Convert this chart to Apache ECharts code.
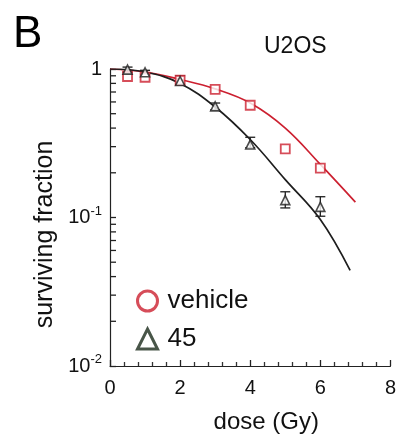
<!DOCTYPE html>
<html>
<head>
<meta charset="utf-8">
<script src="https://cdn.jsdelivr.net/npm/echarts@6/dist/echarts.min.js"></script>
<style>
  html, body { margin: 0; padding: 0; background: #fff; }
  #chart { width: 399px; height: 439px; }
</style>
</head>
<body>
<div id="chart"></div>
<script>
// measured points
var doses = [0.5, 1, 2, 3, 4, 5, 6];
var vehicleSF = [0.89, 0.88, 0.84, 0.73, 0.57, 0.29, 0.215];
var drugSF = [0.99, 0.95, 0.83, 0.56, 0.31, 0.131, 0.118];
var drugErrLow = [0.95, 0.92, 0.79, 0.53, 0.295, 0.116, 0.102];
var drugErrHigh = [1.03, 0.98, 0.90, 0.59, 0.347, 0.149, 0.138];

// fitted curves
var vehicleFitDose = [0, 1, 2, 3, 4, 5, 6, 7];
var vehicleFit = [1, 0.955, 0.85, 0.735, 0.59, 0.40, 0.228, 0.127];
var drugFitDose = [0, 1, 2, 3, 4, 5, 6, 6.85];
var drugFit = [1, 0.955, 0.80, 0.555, 0.335, 0.18, 0.097, 0.044];

// log minor ticks on y axis
var yMinorTicks = [0.02, 0.03, 0.04, 0.05, 0.06, 0.07, 0.08, 0.09,
                   0.2, 0.3, 0.4, 0.5, 0.6, 0.7, 0.8, 0.9];

var RED = '#cc2030';
var BLACK = '#1e1e1e';
var FONT = 'Liberation Sans, Arial, sans-serif';

function pairs(xs, ys) {
    return xs.map(function (x, i) { return [x, ys[i]]; });
}

var chart = echarts.init(document.getElementById('chart'));
var option = {
    animation: false,
    backgroundColor: '#fff',
    textStyle: { fontFamily: FONT },
    grid: { left: 110, right: 7, top: 69, bottom: 62 },
    title: [
        { text: 'B', left: 8, top: 8, textStyle: { fontSize: 44, fontWeight: 'normal', color: '#000', fontFamily: FONT } },
        { text: 'U2OS', left: 259, top: 30, textStyle: { fontSize: 23, fontWeight: 'normal', color: '#111', fontFamily: FONT } }
    ],
    legend: {
        orient: 'vertical',
        left: 131,
        top: 283,
        itemGap: 12,
        itemWidth: 20,
        itemHeight: 20,
        textStyle: { fontSize: 26, color: '#111', fontFamily: FONT, padding: [0, 0, 0, 5] },
        data: [
            { name: 'vehicle', icon: 'circle', itemStyle: { color: '#fff', borderColor: RED, borderWidth: 3 } },
            { name: '45', icon: 'triangle', itemStyle: { color: '#fff', borderColor: '#1a2a1a', borderWidth: 3 } }
        ]
    },
    xAxis: {
        type: 'value',
        min: 0,
        max: 8,
        interval: 2,
        name: 'dose (Gy)',
        nameLocation: 'middle',
        nameGap: 44,
        nameTextStyle: { fontSize: 24, color: '#111', padding: [0, 0, 0, 32] },
        axisLine: { show: true, lineStyle: { color: '#222', width: 1.2 } },
        axisTick: { show: true, inside: true, length: 6, lineStyle: { color: '#222', width: 1.3 } },
        minorTick: { show: true, splitNumber: 5, length: 4, lineStyle: { color: '#333', width: 1.3 } },
        splitLine: { show: false },
        axisLabel: { fontSize: 20, color: '#111', margin: 12 }
    },
    yAxis: {
        type: 'log',
        logBase: 10,
        min: 0.01,
        max: 1,
        name: 'surviving fraction',
        nameLocation: 'middle',
        nameGap: 48,
        nameTextStyle: { fontSize: 25, color: '#111', padding: [0, 34, 0, 0] },
        axisLine: { show: true, lineStyle: { color: '#222', width: 1.2 } },
        axisTick: { show: true, inside: true, length: 6, lineStyle: { color: '#222', width: 1.3 } },
        splitLine: { show: false },
        axisLabel: {
            margin: 8,
            color: '#111',
            formatter: function (v) {
                var e = Math.round(Math.log10(v));
                if (e === 0) return '{b|1}';
                return '{b|10}{s|' + e + '}';
            },
            rich: {
                b: { fontSize: 20, lineHeight: 26, color: '#111', fontFamily: FONT },
                s: { fontSize: 13, lineHeight: 14, verticalAlign: 'top', color: '#111', fontFamily: FONT }
            }
        }
    },
    series: [
        {
            type: 'line',
            name: 'vehicle fit',
            data: pairs(vehicleFitDose, vehicleFit),
            smooth: 0.4,
            showSymbol: false,
            lineStyle: { color: RED, width: 1.7 },
            z: 2
        },
        {
            type: 'line',
            name: '45 fit',
            data: pairs(drugFitDose, drugFit),
            smooth: 0.4,
            showSymbol: false,
            lineStyle: { color: BLACK, width: 1.7 },
            z: 2
        },
        {
            type: 'custom',
            name: '45 err',
            data: doses.map(function (d, i) { return [d, drugErrLow[i], drugErrHigh[i]]; }),
            renderItem: function (params, api) {
                var lo = api.coord([api.value(0), api.value(1)]);
                var hi = api.coord([api.value(0), api.value(2)]);
                var w = 5;
                var st = { stroke: BLACK, lineWidth: 1.3 };
                return {
                    type: 'group',
                    children: [
                        { type: 'line', shape: { x1: lo[0], y1: lo[1], x2: hi[0], y2: hi[1] }, style: st },
                        { type: 'line', shape: { x1: lo[0] - w, y1: lo[1], x2: lo[0] + w, y2: lo[1] }, style: st },
                        { type: 'line', shape: { x1: hi[0] - w, y1: hi[1], x2: hi[0] + w, y2: hi[1] }, style: st }
                    ]
                };
            },
            z: 3
        },
        {
            type: 'scatter',
            name: 'vehicle',
            data: pairs(doses, vehicleSF),
            symbol: 'rect',
            symbolSize: 9,
            itemStyle: { color: '#fff', borderColor: RED, borderWidth: 1.8 },
            z: 4
        },
        {
            type: 'scatter',
            name: '45',
            data: pairs(doses, drugSF),
            symbol: 'triangle',
            symbolSize: 9,
            itemStyle: { color: '#fff', borderColor: BLACK, borderWidth: 1.6 },
            z: 5
        },
        {
            type: 'custom',
            name: 'y minor ticks',
            silent: true,
            data: yMinorTicks.map(function (v) { return [0.5, v]; }),
            renderItem: function (params, api) {
                var p = api.coord([0, api.value(1)]);
                return {
                    type: 'group',
                    children: [{
                        type: 'line',
                        shape: { x1: p[0], y1: p[1], x2: p[0] + 6, y2: p[1] },
                        style: { stroke: '#222', lineWidth: 1.3 }
                    }]
                };
            },
            z: 6
        }
    ]
};
chart.setOption(option);
</script>
</body>
</html>
